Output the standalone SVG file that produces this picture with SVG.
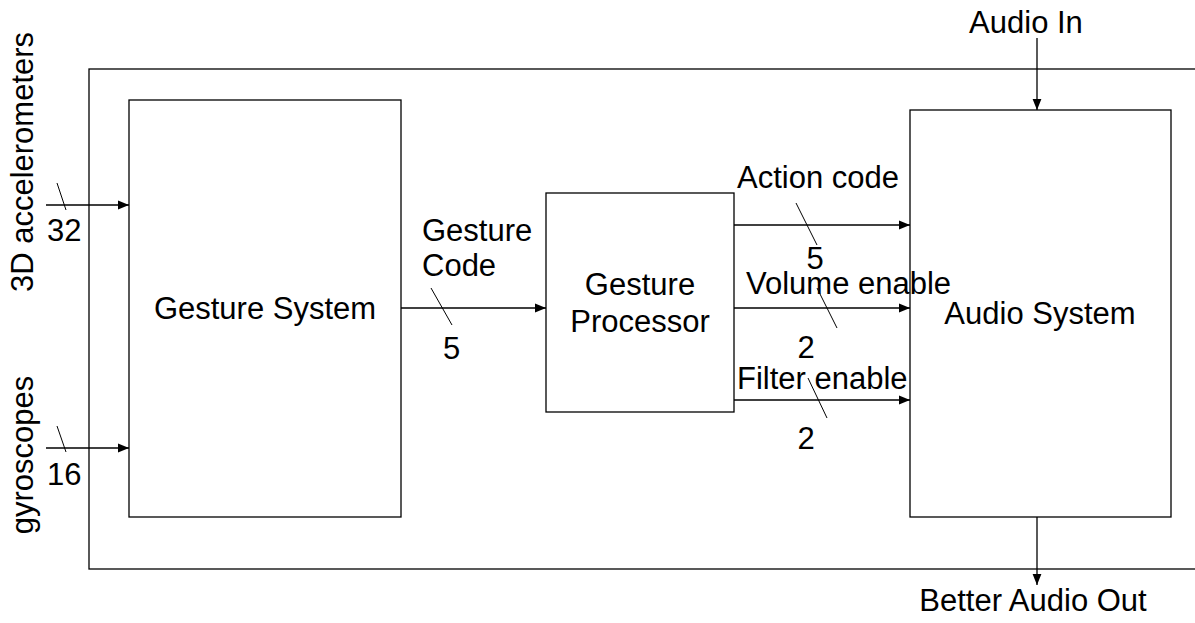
<svg xmlns="http://www.w3.org/2000/svg" width="1195" height="623" viewBox="0 0 1195 623">
<defs>
<marker id="ah" viewBox="0 0 10 10" refX="10" refY="5" markerWidth="11" markerHeight="11" markerUnits="userSpaceOnUse" orient="auto">
<path d="M0,1 L10,5 L0,9 z" fill="#000"/>
</marker>
<style>
.box{fill:#fff;stroke:#000;stroke-width:1.3}
.ln{stroke:#000;stroke-width:1.3;fill:none}
.sl{stroke:#000;stroke-width:1;fill:none}
text{font-family:"Liberation Sans",Arial,sans-serif;font-size:31px;fill:#000}
.m{text-anchor:middle}
</style>
</defs>
<rect width="1195" height="623" fill="#fff"/>
<rect id="outer" x="89" y="69" width="1120" height="500" class="box"/>
<g id="gesture-system">
<rect x="129" y="100" width="272" height="417" class="box"/>
<text x="265" y="319" class="m">Gesture System</text>
</g>
<g id="gesture-processor">
<rect x="546" y="193" width="188" height="219" class="box"/>
<text x="640" y="295" class="m">Gesture</text>
<text x="640" y="332" class="m">Processor</text>
</g>
<g id="audio-system">
<rect x="910" y="110" width="261" height="407" class="box"/>
<text x="1040" y="324" class="m">Audio System</text>
</g>
<g id="connectors">
<line x1="46" y1="205" x2="129" y2="205" class="ln" marker-end="url(#ah)"/>
<line x1="46" y1="448" x2="129" y2="448" class="ln" marker-end="url(#ah)"/>
<line x1="401" y1="308" x2="546" y2="308" class="ln" marker-end="url(#ah)"/>
<line x1="734" y1="225" x2="910" y2="225" class="ln" marker-end="url(#ah)"/>
<line x1="734" y1="308" x2="910" y2="308" class="ln" marker-end="url(#ah)"/>
<line x1="734" y1="400" x2="910" y2="400" class="ln" marker-end="url(#ah)"/>
<line x1="1037" y1="38" x2="1037" y2="110" class="ln" marker-end="url(#ah)"/>
<line x1="1037" y1="517" x2="1037" y2="585" class="ln" marker-end="url(#ah)"/>
<line x1="57" y1="183" x2="66" y2="210" class="sl"/>
<line x1="57" y1="426" x2="66" y2="452" class="sl"/>
<line x1="431" y1="288" x2="452" y2="325" class="sl"/>
<line x1="796" y1="203" x2="817" y2="245" class="sl"/>
<line x1="817" y1="288" x2="837" y2="328" class="sl"/>
<line x1="808" y1="378" x2="827" y2="418" class="sl"/>
</g>
<g id="labels">
<text transform="translate(33,162) rotate(-90)" class="m">3D accelerometers</text>
<text transform="translate(33,455) rotate(-90)" class="m">gyroscopes</text>
<text x="47" y="241">32</text>
<text x="47" y="485">16</text>
<text x="422" y="241">Gesture</text>
<text x="422" y="276">Code</text>
<text x="443" y="359">5</text>
<text x="737" y="188">Action code</text>
<text x="815" y="269" class="m">5</text>
<text x="746" y="294">Volume enable</text>
<text x="806" y="358" class="m">2</text>
<text x="737" y="389">Filter enable</text>
<text x="806" y="449" class="m">2</text>
<text x="1026" y="33" class="m">Audio In</text>
<text x="1033" y="611" class="m">Better Audio Out</text>
</g>
</svg>
